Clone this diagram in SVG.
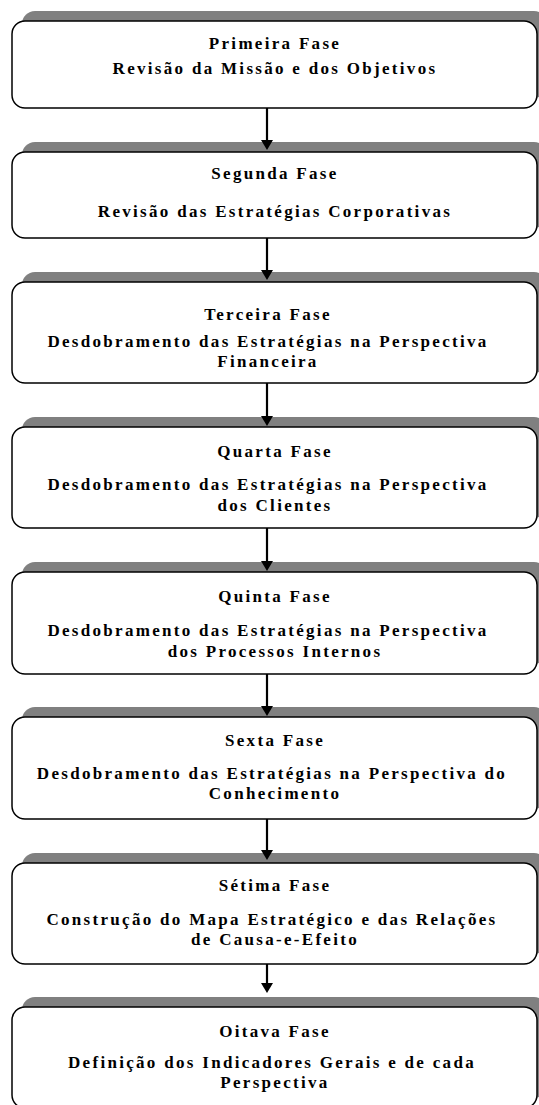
<svg xmlns="http://www.w3.org/2000/svg" width="539" height="1105" viewBox="0 0 539 1105">
<style>
.shadow{fill:#808080;stroke:none}
.box{fill:#ffffff;stroke:#000000;stroke-width:1.5}
.t{font-family:"Liberation Serif","Times New Roman",serif;font-weight:bold;font-size:17px;letter-spacing:2.3px;fill:#000000;text-anchor:middle}
.arrow{stroke:#000000;stroke-width:2.2;fill:none;marker-end:url(#ah)}
</style>
<defs>
<marker id="ah" markerUnits="userSpaceOnUse" viewBox="0 0 10 12" refX="0" refY="6" markerWidth="10" markerHeight="12" orient="auto">
<path d="M0,0 L10,6 L0,12 Z" fill="#000000"/>
</marker>
</defs>
<rect width="539" height="1105" fill="#ffffff"/>
<g id="fase1">
<rect class="shadow" x="22" y="11" width="525" height="87" rx="13"/>
<rect class="box" x="12" y="21" width="525" height="87" rx="13"/>
<text class="t" x="275" y="48.5">Primeira Fase</text>
<text class="t" x="275" y="73.5">Revisão da Missão e dos Objetivos</text>
</g>
<g id="fase2">
<rect class="shadow" x="22" y="142" width="525" height="86" rx="13"/>
<rect class="box" x="12" y="152" width="525" height="86" rx="13"/>
<text class="t" x="275" y="179">Segunda Fase</text>
<text class="t" x="275" y="217">Revisão das Estratégias Corporativas</text>
</g>
<g id="fase3">
<rect class="shadow" x="22" y="272" width="525" height="101" rx="13"/>
<rect class="box" x="12" y="282" width="525" height="101" rx="13"/>
<text class="t" x="268" y="320">Terceira Fase</text>
<text class="t" x="268" y="346.5">Desdobramento das Estratégias na Perspectiva</text>
<text class="t" x="268" y="366.5">Financeira</text>
</g>
<g id="fase4">
<rect class="shadow" x="22" y="417" width="525" height="101" rx="13"/>
<rect class="box" x="12" y="427" width="525" height="101" rx="13"/>
<text class="t" x="275" y="456.5">Quarta Fase</text>
<text class="t" x="268" y="490">Desdobramento das Estratégias na Perspectiva</text>
<text class="t" x="275" y="511">dos Clientes</text>
</g>
<g id="fase5">
<rect class="shadow" x="22" y="562" width="525" height="102" rx="13"/>
<rect class="box" x="12" y="572" width="525" height="102" rx="13"/>
<text class="t" x="275" y="602">Quinta Fase</text>
<text class="t" x="268" y="636">Desdobramento das Estratégias na Perspectiva</text>
<text class="t" x="275" y="656.5">dos Processos Internos</text>
</g>
<g id="fase6">
<rect class="shadow" x="22" y="707" width="525" height="102" rx="13"/>
<rect class="box" x="12" y="717" width="525" height="102" rx="13"/>
<text class="t" x="275" y="746">Sexta Fase</text>
<text class="t" x="272" y="778.5">Desdobramento das Estratégias na Perspectiva do</text>
<text class="t" x="275" y="799">Conhecimento</text>
</g>
<g id="fase7">
<rect class="shadow" x="22" y="853" width="525" height="101" rx="13"/>
<rect class="box" x="12" y="863" width="525" height="101" rx="13"/>
<text class="t" x="275" y="891">Sétima Fase</text>
<text class="t" x="272" y="924.5">Construção do Mapa Estratégico e das Relações</text>
<text class="t" x="275" y="945">de Causa-e-Efeito</text>
</g>
<g id="fase8">
<rect class="shadow" x="22" y="997" width="525" height="101" rx="13"/>
<rect class="box" x="12" y="1007" width="525" height="101" rx="13"/>
<text class="t" x="275" y="1036.5">Oitava Fase</text>
<text class="t" x="272" y="1068">Definição dos Indicadores Gerais e de cada</text>
<text class="t" x="275" y="1088">Perspectiva</text>
</g>
<g id="connectors">
<line class="arrow" x1="267" y1="108" x2="267" y2="140"/>
<line class="arrow" x1="267" y1="238" x2="267" y2="270"/>
<line class="arrow" x1="267" y1="383" x2="267" y2="416"/>
<line class="arrow" x1="267" y1="528" x2="267" y2="561"/>
<line class="arrow" x1="267" y1="674" x2="267" y2="706"/>
<line class="arrow" x1="267" y1="819" x2="267" y2="850"/>
<line class="arrow" x1="267" y1="964" x2="267" y2="983"/>
</g>
</svg>
